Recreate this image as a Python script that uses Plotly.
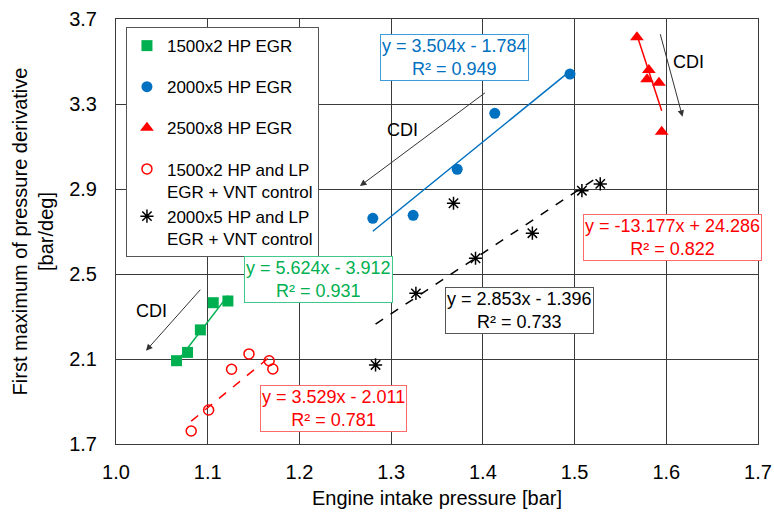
import plotly.graph_objects as go

# ---- data ----
hp1500_x = [1.066, 1.078, 1.092, 1.106, 1.122]
hp1500_y = [2.092, 2.131, 2.237, 2.365, 2.373]

hp2000_x = [1.280, 1.324, 1.372, 1.413, 1.495]
hp2000_y = [2.762, 2.776, 2.993, 3.256, 3.441]

hp2500_x = [1.568, 1.581, 1.579, 1.592, 1.595]
hp2500_y = [3.614, 3.460, 3.416, 3.400, 3.170]

lp1500_x = [1.082, 1.101, 1.126, 1.145, 1.167, 1.171]
lp1500_y = [1.761, 1.860, 2.052, 2.124, 2.092, 2.053]

lp2000_x = [1.283, 1.327, 1.368, 1.392, 1.454, 1.508, 1.528]
lp2000_y = [2.072, 2.409, 2.833, 2.574, 2.692, 2.892, 2.924]

# trendline coefficients (slope, intercept) as printed on the chart
fit_hp1500 = (5.624, -3.912)
fit_hp2000 = (3.504, -1.784)
fit_hp2500 = (-13.177, 24.286)
fit_lp1500 = (3.529, -2.011)
fit_lp2000 = (2.853, -1.396)

names = ["1500x2 HP EGR", "2000x5 HP EGR", "2500x8 HP EGR",
         "1500x2 HP and LP<br>EGR + VNT control",
         "2000x5 HP and LP<br>EGR + VNT control"]

eq_texts = ["y = 5.624x - 3.912<br>R² = 0.931",
            "y = 3.504x - 1.784<br>R² = 0.949",
            "y = -13.177x + 24.286<br>R² = 0.822",
            "y = 3.529x - 2.011<br>R² = 0.781",
            "y = 2.853x - 1.396<br>R² = 0.733"]

x_ticks = [1.0, 1.1, 1.2, 1.3, 1.4, 1.5, 1.6, 1.7]
y_ticks = [1.7, 2.1, 2.5, 2.9, 3.3, 3.7]

GREEN = "#00B050"
BLUE = "#0070C0"
RED = "#FF0000"
BLACK = "#000000"
FONT = "Liberation Sans, Arial, sans-serif"


def trend(xs, fit):
    lo, hi = min(xs), max(xs)
    return [lo, hi], [fit[0] * lo + fit[1], fit[0] * hi + fit[1]]


fig = go.Figure()

# trendlines
for xs, fit, col, dash in [
    (hp1500_x, fit_hp1500, GREEN, "solid"),
    (hp2000_x, fit_hp2000, BLUE, "solid"),
    (hp2500_x, fit_hp2500, RED, "solid"),
    (lp1500_x, fit_lp1500, RED, "dash"),
    (lp2000_x, fit_lp2000, BLACK, "dash"),
]:
    tx, ty = trend(xs, fit)
    fig.add_trace(go.Scatter(x=tx, y=ty, mode="lines", showlegend=False,
                             hoverinfo="skip",
                             line=dict(color=col, width=1.5, dash=dash)))

fig.add_trace(go.Scatter(x=hp1500_x, y=hp1500_y, mode="markers", name=names[0],
                         legendgroup="g1",
                         marker=dict(symbol="square", size=11, color=GREEN)))
fig.add_trace(go.Scatter(x=hp2000_x, y=hp2000_y, mode="markers", name=names[1],
                         legendgroup="g2",
                         marker=dict(symbol="circle", size=11, color=BLUE)))
fig.add_trace(go.Scatter(x=hp2500_x, y=hp2500_y, mode="markers", name=names[2],
                         legendgroup="g3",
                         marker=dict(symbol="triangle-up", size=12, color=RED)))
fig.add_trace(go.Scatter(x=lp1500_x, y=lp1500_y, mode="markers", name=names[3],
                         legendgroup="g4",
                         marker=dict(symbol="circle-open", size=10, color=RED,
                                     line=dict(width=1.5, color=RED))))
fig.add_trace(go.Scatter(x=lp2000_x, y=lp2000_y, mode="markers", name=names[4],
                         legendgroup="g4",
                         marker=dict(symbol="asterisk-open", size=11, color=BLACK,
                                     line=dict(width=1.5, color=BLACK))))

ann = []
# equation boxes
for txt, col, border, xy in [
    (eq_texts[0], GREEN, "#40C88A", (1.2213, 2.472)),
    (eq_texts[1], BLUE, "#3C9BD8", (1.369, 3.521)),
    (eq_texts[2], RED, "#FF6B6B", (1.6065, 2.674)),
    (eq_texts[3], RED, "#FF6B6B", (1.2376, 1.867)),
    (eq_texts[4], BLACK, "#555555", (1.4403, 2.328)),
]:
    ann.append(dict(x=xy[0], y=xy[1], xref="x", yref="y", text=txt,
                    showarrow=False, font=dict(size=18, color=col, family=FONT),
                    bgcolor="white", bordercolor=border, borderwidth=1,
                    borderpad=1, align="center"))

# CDI arrows
for (hx, hy, tx, ty) in [
    (1.266, 2.914, 1.404, 3.358),
    (1.0327, 2.139, 1.0934, 2.433),
    (1.6177, 3.24, 1.593, 3.6355),
]:
    ann.append(dict(x=hx, y=hy, ax=tx, ay=ty, xref="x", yref="y",
                    axref="x", ayref="y", text="", showarrow=True,
                    arrowhead=2, arrowsize=1.3, arrowwidth=1,
                    arrowcolor="#333333"))

for (cx, cy) in [(1.3125, 3.178), (1.0389, 2.327), (1.6238, 3.499)]:
    ann.append(dict(x=cx, y=cy, xref="x", yref="y", text="CDI",
                    showarrow=False, font=dict(size=18, color=BLACK, family=FONT)))

fig.update_layout(
    width=774, height=513,
    margin=dict(l=116, r=16, t=19, b=69, autoexpand=False),
    paper_bgcolor="white", plot_bgcolor="white",
    font=dict(family=FONT, size=18, color=BLACK),
    annotations=ann,
    legend=dict(x=0.0155, y=0.981, xanchor="left", yanchor="top",
                bgcolor="white", bordercolor="#555555", borderwidth=1,
                font=dict(size=17, family=FONT), tracegroupgap=16,
                valign="top", itemwidth=30),
    showlegend=True,
)

fig.update_xaxes(range=[1.0, 1.7], tickvals=x_ticks,
                 ticktext=[f"{v:.1f}" for v in x_ticks],
                 ticklabeloverflow="allow", automargin=False,
                 showgrid=True, gridcolor="#3a3a3a", gridwidth=1,
                 showline=True, linecolor="#3a3a3a", linewidth=1, mirror=True,
                 zeroline=False, ticks="outside", ticklen=10,
                 tickcolor="rgba(0,0,0,0)",
                 tickfont=dict(size=20, family=FONT),
                 title=dict(text="Engine intake pressure [bar]",
                            font=dict(size=20, family=FONT), standoff=8))
fig.update_yaxes(range=[1.7, 3.7], tickvals=y_ticks,
                 ticktext=[f"{v:.1f}" for v in y_ticks],
                 ticklabeloverflow="allow", automargin=False,
                 showgrid=True, gridcolor="#3a3a3a", gridwidth=1,
                 showline=True, linecolor="#3a3a3a", linewidth=1, mirror=True,
                 zeroline=False, ticks="outside", ticklen=14,
                 tickcolor="rgba(0,0,0,0)",
                 tickfont=dict(size=20, family=FONT),
                 title=dict(text="First maximum of pressure derivative<br>[bar/deg]",
                            font=dict(size=20, family=FONT), standoff=10))

fig.write_html("out.html")
